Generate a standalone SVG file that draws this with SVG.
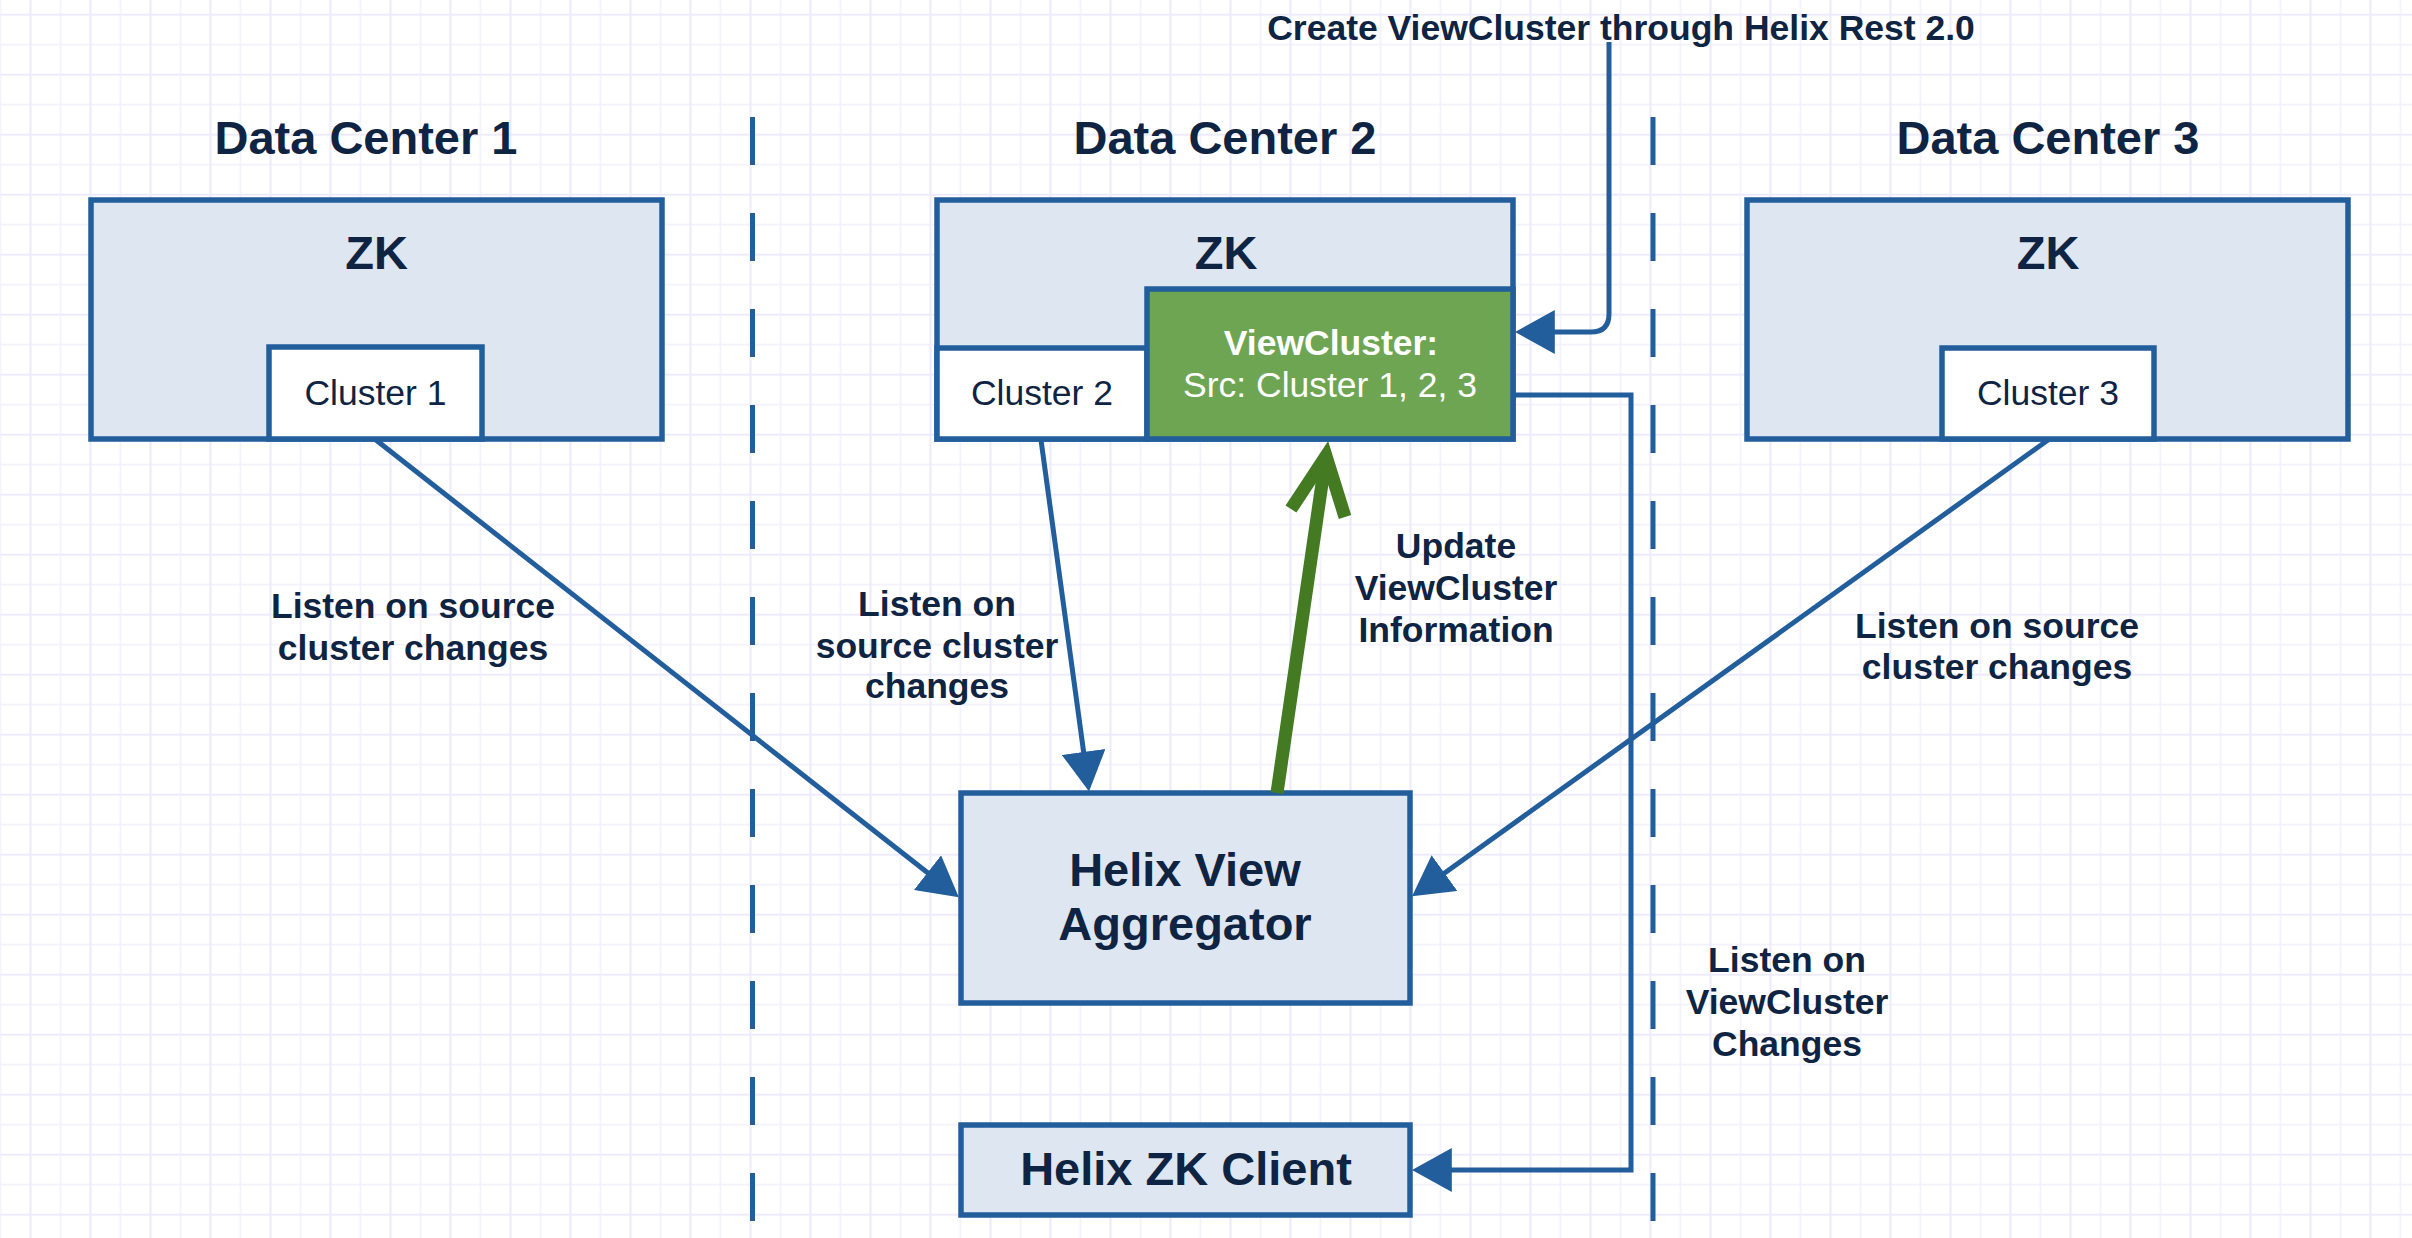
<svg xmlns="http://www.w3.org/2000/svg" width="2412" height="1238" viewBox="0 0 2412 1238">
  <defs>
    <pattern id="grid" x="29.5" y="13.7" width="60" height="60" patternUnits="userSpaceOnUse">
      <path d="M31,0 V60 M0,31 H60" stroke="#f4f3fd" stroke-width="2" fill="none"/>
      <path d="M1,0 V60 M0,1 H60" stroke="#ecebfb" stroke-width="2" fill="none"/>
    </pattern>
    <marker id="arrow" markerUnits="userSpaceOnUse" markerWidth="40" markerHeight="44" viewBox="0 0 38 42" refX="28" refY="21" orient="auto">
      <path d="M0,0 L38,21 L0,42 z" fill="#225d9c"/>
    </marker>
  </defs>
  <style>
    .box { fill: #dee6f1; stroke: #225d9c; stroke-width: 5.5; }
    .white { fill: #ffffff; stroke: #225d9c; stroke-width: 5.5; }
    .green { fill: #6ea553; stroke: #225d9c; stroke-width: 5.5; }
    .big { font-family: "Liberation Sans", Arial, sans-serif; font-weight: bold; font-size: 47px; fill: #0f2442; text-anchor: middle; }
    .reg { font-family: "Liberation Sans", Arial, sans-serif; font-size: 35.5px; fill: #0f2442; text-anchor: middle; }
    .lbl { font-family: "Liberation Sans", Arial, sans-serif; font-weight: bold; font-size: 35.5px; fill: #0f2442; text-anchor: middle; }
    .wb { font-family: "Liberation Sans", Arial, sans-serif; font-weight: bold; font-size: 35.5px; fill: #ffffff; text-anchor: middle; }
    .wr { font-family: "Liberation Sans", Arial, sans-serif; font-size: 35.5px; fill: #ffffff; text-anchor: middle; }
    .conn { fill: none; stroke: #225d9c; stroke-width: 5; }
    .dash { fill: none; stroke: #225d9c; stroke-width: 5; stroke-dasharray: 48 48; }
  </style>

  <rect x="0" y="0" width="2412" height="1238" fill="#ffffff"/>
  <rect x="0" y="0" width="2412" height="1238" fill="url(#grid)"/>

  <g id="separators">
    <line class="dash" x1="752.5" y1="117" x2="752.5" y2="1221"/>
    <line class="dash" x1="1653" y1="117" x2="1653" y2="1221"/>
  </g>

  <g id="titles">
    <text class="big" x="366" y="154">Data Center 1</text>
    <text class="big" x="1225" y="154">Data Center 2</text>
    <text class="big" x="2048" y="154">Data Center 3</text>
    <text class="lbl" x="1621" y="40">Create ViewCluster through Helix Rest 2.0</text>
  </g>

  <g id="zk1">
    <rect class="box" x="91" y="200" width="571" height="239"/>
    <text class="big" x="376.5" y="269">ZK</text>
  </g>
  <g id="cluster1">
    <rect class="white" x="269" y="347" width="213" height="92"/>
    <text class="reg" x="375.5" y="405">Cluster 1</text>
  </g>

  <g id="zk2">
    <rect class="box" x="937" y="200" width="576" height="239"/>
    <text class="big" x="1226" y="269">ZK</text>
  </g>
  <g id="cluster2">
    <rect class="white" x="937" y="348" width="210" height="91"/>
    <text class="reg" x="1042" y="405">Cluster 2</text>
  </g>
  <g id="viewcluster">
    <rect class="green" x="1147" y="289" width="366" height="150"/>
    <text class="wb" x="1331" y="355">ViewCluster:</text>
    <text class="wr" x="1330" y="397">Src: Cluster 1, 2, 3</text>
  </g>

  <g id="zk3">
    <rect class="box" x="1747" y="200" width="601" height="239"/>
    <text class="big" x="2048" y="269">ZK</text>
  </g>
  <g id="cluster3">
    <rect class="white" x="1942" y="348" width="212" height="91"/>
    <text class="reg" x="2048" y="405">Cluster 3</text>
  </g>

  <g id="aggregator">
    <rect class="box" x="961" y="793" width="449" height="210"/>
    <text class="big" x="1185" y="886">Helix View</text>
    <text class="big" x="1185" y="940">Aggregator</text>
  </g>

  <g id="zkclient">
    <rect class="box" x="961" y="1125" width="449" height="90"/>
    <text class="big" x="1186" y="1185">Helix ZK Client</text>
  </g>

  <g id="connectors">
    <path class="conn" d="M376,440 L950.6,890.8" marker-end="url(#arrow)"/>
    <path class="conn" d="M1041,440 L1087.6,781" marker-end="url(#arrow)"/>
    <path class="conn" d="M2048,440 L1420.6,890.2" marker-end="url(#arrow)"/>
    <path class="conn" d="M1609,42 V314 Q1609,332 1591,332 H1525.5" marker-end="url(#arrow)"/>
    <path class="conn" d="M1513,395 H1631 V1170 H1422.5" marker-end="url(#arrow)"/>
    <path d="M1277,793 L1326,456" fill="none" stroke="#437a22" stroke-width="13"/>
    <path d="M1291,509 L1326,456 L1345,517" fill="none" stroke="#437a22" stroke-width="13" stroke-linejoin="miter" stroke-miterlimit="10"/>
  </g>

  <g id="labels">
    <text class="lbl" x="413" y="618">Listen on source</text>
    <text class="lbl" x="413" y="659.5">cluster changes</text>
    <text class="lbl" x="937" y="616">Listen on</text>
    <text class="lbl" x="937" y="657.5">source cluster</text>
    <text class="lbl" x="937" y="698">changes</text>
    <text class="lbl" x="1456" y="558">Update</text>
    <text class="lbl" x="1456" y="599.5">ViewCluster</text>
    <text class="lbl" x="1456" y="641.5">Information</text>
    <text class="lbl" x="1997" y="638">Listen on source</text>
    <text class="lbl" x="1997" y="679">cluster changes</text>
    <text class="lbl" x="1787" y="972">Listen on</text>
    <text class="lbl" x="1787" y="1014">ViewCluster</text>
    <text class="lbl" x="1787" y="1055.5">Changes</text>
  </g>
</svg>
